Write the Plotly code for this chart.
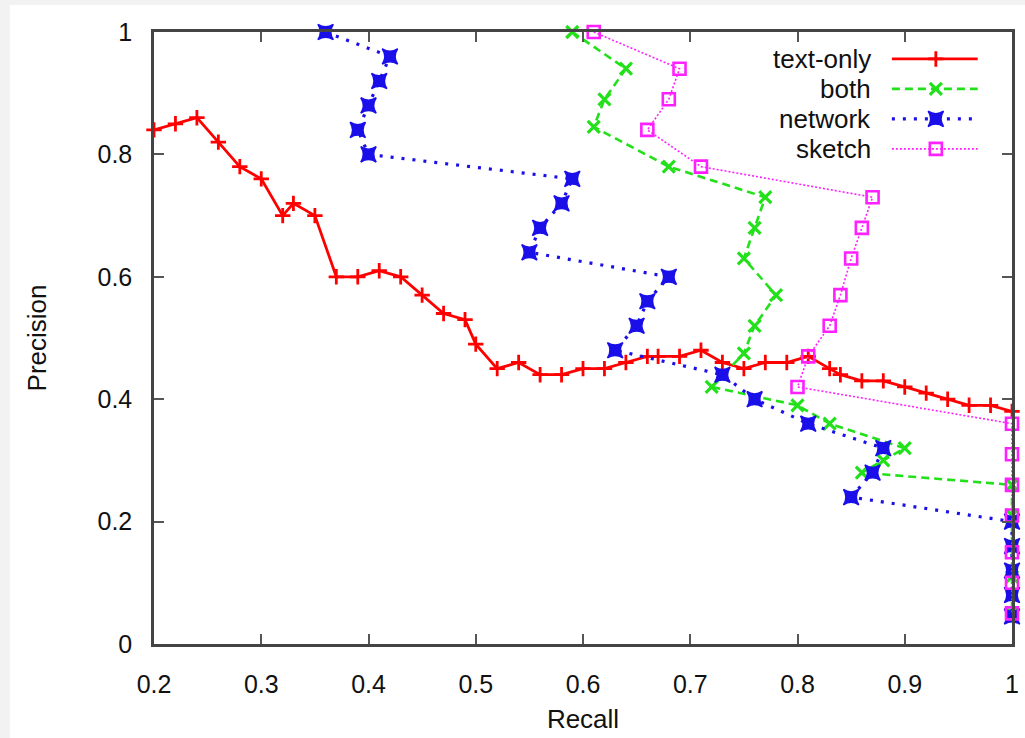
import plotly.graph_objects as go

# ---- data ----
text_only_recall = [0.20, 0.22, 0.24, 0.26, 0.28, 0.30, 0.32, 0.33, 0.35, 0.37, 0.39, 0.41, 0.43, 0.45,
                    0.47, 0.49, 0.50, 0.52, 0.54, 0.56, 0.58, 0.60, 0.62, 0.64, 0.66, 0.67, 0.69, 0.71,
                    0.73, 0.75, 0.77, 0.79, 0.81, 0.83, 0.84, 0.86, 0.88, 0.90, 0.92, 0.94, 0.96, 0.98, 1.00]
text_only_precision = [0.84, 0.85, 0.86, 0.82, 0.78, 0.76, 0.70, 0.72, 0.70, 0.60, 0.60, 0.61, 0.60, 0.57,
                       0.54, 0.53, 0.49, 0.45, 0.46, 0.44, 0.44, 0.45, 0.45, 0.46, 0.47, 0.47, 0.47, 0.48,
                       0.46, 0.45, 0.46, 0.46, 0.47, 0.45, 0.44, 0.43, 0.43, 0.42, 0.41, 0.40, 0.39, 0.39, 0.38]

both_recall = [0.59, 0.64, 0.62, 0.61, 0.68, 0.77, 0.76, 0.75, 0.78, 0.76, 0.75, 0.72, 0.80, 0.83,
               0.90, 0.88, 0.86, 1.00, 1.00, 1.00, 1.00, 1.00]
both_precision = [1.00, 0.94, 0.89, 0.845, 0.78, 0.73, 0.68, 0.63, 0.57, 0.52, 0.475, 0.42, 0.39, 0.36,
                  0.32, 0.30, 0.28, 0.26, 0.21, 0.16, 0.11, 0.05]

network_recall = [0.36, 0.42, 0.41, 0.40, 0.39, 0.40, 0.59, 0.58, 0.56, 0.55, 0.68, 0.66, 0.65, 0.63,
                  0.73, 0.76, 0.81, 0.88, 0.87, 0.85, 1.00, 1.00, 1.00, 1.00, 1.00]
network_precision = [1.00, 0.96, 0.92, 0.88, 0.84, 0.80, 0.76, 0.72, 0.68, 0.64, 0.60, 0.56, 0.52, 0.48,
                     0.44, 0.40, 0.36, 0.32, 0.28, 0.24, 0.20, 0.16, 0.12, 0.08, 0.045]

sketch_recall = [0.61, 0.69, 0.68, 0.66, 0.71, 0.87, 0.86, 0.85, 0.84, 0.83, 0.81, 0.80,
                 1.00, 1.00, 1.00, 1.00, 1.00, 1.00, 1.00]
sketch_precision = [1.00, 0.94, 0.89, 0.84, 0.78, 0.73, 0.68, 0.63, 0.57, 0.52, 0.47, 0.42,
                    0.36, 0.31, 0.26, 0.21, 0.15, 0.10, 0.05]

series_names = ["text-only", "both", "network", "sketch"]
x_ticks = [0.2, 0.3, 0.4, 0.5, 0.6, 0.7, 0.8, 0.9, 1.0]
x_tick_text = ["0.2", "0.3", "0.4", "0.5", "0.6", "0.7", "0.8", "0.9", "1"]
y_ticks = [0, 0.2, 0.4, 0.6, 0.8, 1.0]
y_tick_text = ["0", "0.2", "0.4", "0.6", "0.8", "1"]

# ---- styles ----
FONT = "Liberation Sans, Arial, Helvetica"
styles = [
    dict(color="#ff0000", dash="solid", lw=2.8, symbol="cross-thin", msize=11, mlw=2.8),
    dict(color="#22e01a", dash="8px,5px", lw=2.6, symbol="x-thin", msize=12, mlw=3.2),
    dict(color="#1a0fe8", dash="3px,8px", lw=3.2, symbol="star-square", msize=14, mlw=1.5),
    dict(color="#ff20ff", dash="2px,2px", lw=1.6, symbol="square-open", msize=12, mlw=2.6),
]
data = [
    (text_only_recall, text_only_precision),
    (both_recall, both_precision),
    (network_recall, network_precision),
    (sketch_recall, sketch_precision),
]

fig = go.Figure()
for name, (xs, ys), st in zip(series_names, data, styles):
    fig.add_trace(go.Scatter(
        x=xs, y=ys, mode="lines+markers", name=name, showlegend=False, cliponaxis=False,
        line=dict(color=st["color"], width=st["lw"], dash=st["dash"]),
        marker=dict(symbol=st["symbol"], size=st["msize"], color=st["color"],
                    line=dict(color=st["color"], width=st["mlw"])),
    ))

# ---- custom legend (gnuplot style: label on the left, sample on the right) ----
leg_x0, leg_xm, leg_x1 = 0.888, 0.929, 0.968
leg_text_x = 0.838
row_y = [0.956, 0.907, 0.858, 0.809]
for name, st, yy in zip(series_names, styles, row_y):
    fig.add_trace(go.Scatter(
        x=[leg_x0, leg_x1], y=[yy, yy], mode="lines", showlegend=False, hoverinfo="skip",
        line=dict(color=st["color"], width=st["lw"], dash=st["dash"]),
    ))
    fig.add_trace(go.Scatter(
        x=[leg_xm], y=[yy], mode="markers", showlegend=False, hoverinfo="skip",
        marker=dict(symbol=st["symbol"], size=st["msize"], color=st["color"],
                    line=dict(color=st["color"], width=st["mlw"])),
    ))
    fig.add_annotation(x=leg_text_x, y=yy, xref="paper", yref="y", text=name, showarrow=False,
                       xanchor="right", yanchor="middle",
                       font=dict(family=FONT, size=26, color="#111"))

axis_common = dict(
    showline=True, linecolor="#444", linewidth=2.5, mirror="ticks",
    ticks="inside", ticklen=10, tickwidth=2, tickcolor="#555",
    showgrid=False, zeroline=False, automargin=False,
    tickfont=dict(family=FONT, size=25, color="#111"),
)

fig.update_layout(
    width=1025, height=738,
    margin=dict(l=154, r=13, t=32, b=94),
    paper_bgcolor="#f2f2f2", plot_bgcolor="white",
    xaxis=dict(range=[0.2, 1.0], tickvals=x_ticks, ticktext=x_tick_text,
               ticklabelstandoff=16,
               title=dict(text="Recall", standoff=14, font=dict(family=FONT, size=26, color="#111")),
               **axis_common),
    yaxis=dict(range=[0, 1.0], tickvals=y_ticks, ticktext=y_tick_text,
               ticklabelstandoff=14,
               title=dict(text="Precision", standoff=44, font=dict(family=FONT, size=26, color="#111")),
               **axis_common),
    shapes=[dict(type="rect", xref="paper", yref="paper", x0=-0.168, x1=1.0152, y0=-0.16, y1=1.044,
                 fillcolor="white", line=dict(width=0), layer="below")],
)

fig.write_html("out.html")
